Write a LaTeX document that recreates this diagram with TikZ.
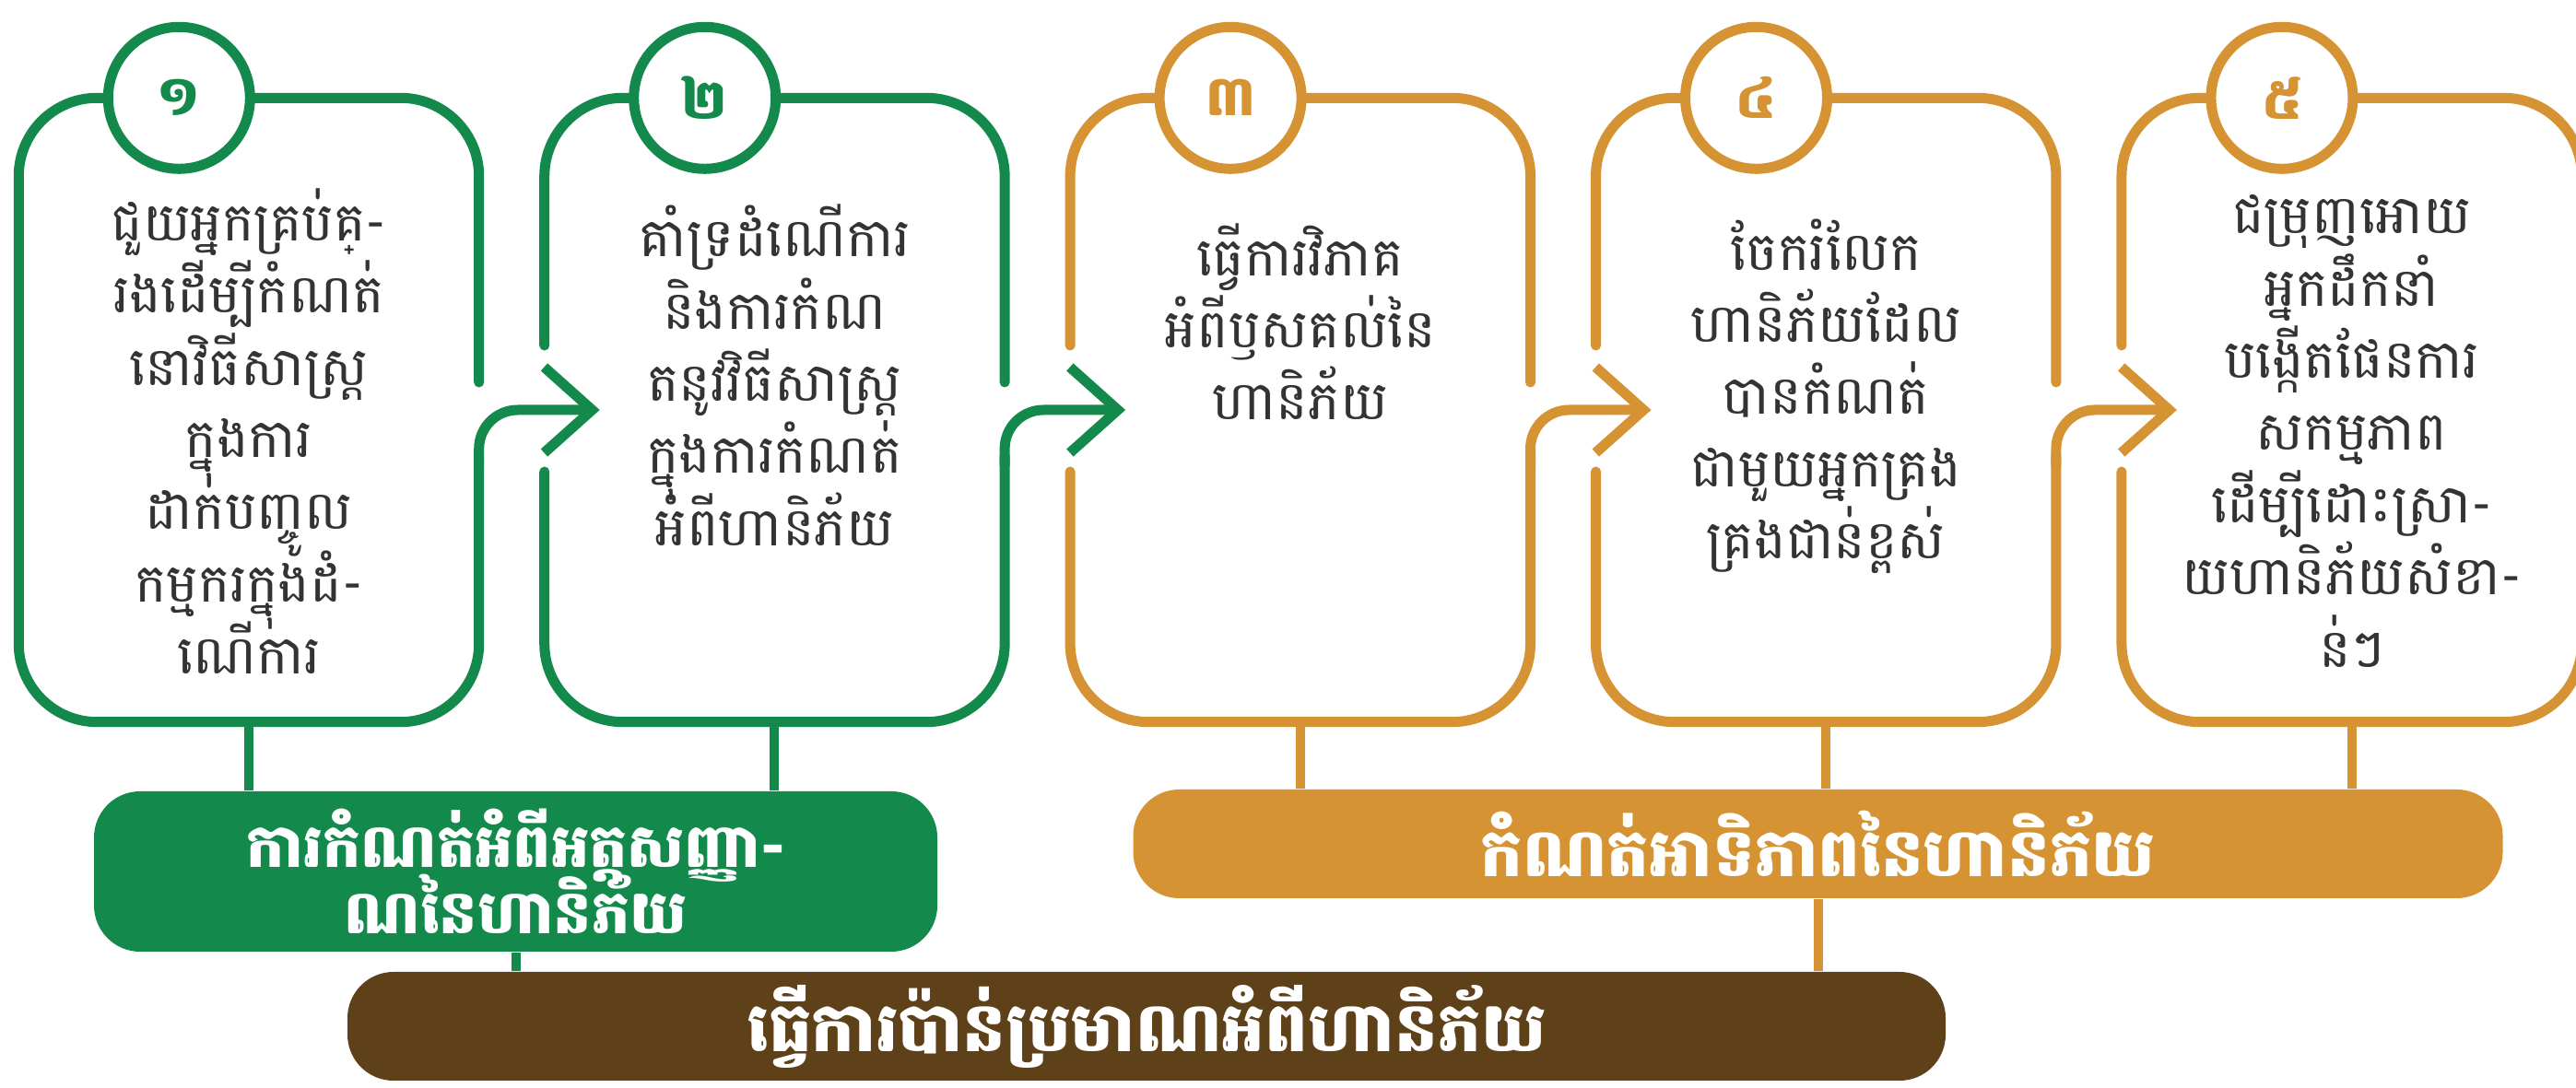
\documentclass[tikz,border=0pt]{standalone}
\usepackage{fontspec}
\setmainfont[Script=Khmer]{Battambang}
\usetikzlibrary{positioning,arrows.meta}
\definecolor{riskgreen}{HTML}{138A4C}
\definecolor{riskorange}{HTML}{D59333}
\definecolor{riskbrown}{HTML}{5E4019}
\definecolor{inktext}{HTML}{333333}
\setlength{\lineskiplimit}{-30pt}% Khmer stacks must not push the lines apart

\begin{document}
\begin{tikzpicture}[
    line cap=round,line join=round,
    stepbox/.style={rectangle,minimum width=49.8mm,minimum height=67.6mm,inner sep=0pt},
    frame/.style={draw=#1,line width=1.1mm,rounded corners=8.5mm},
    numcirc/.style={circle,draw=#1,fill=white,line width=1.1mm,minimum size=15.4mm,
        inner sep=0pt,text=#1,font=\fontsize{17}{17}\selectfont\bfseries},
    steptext/.style={align=center,text=inktext,inner sep=0pt,
        font=\fontsize{16.5}{22.3}\selectfont},
    flow/.style={draw=#1,line width=1.1mm,rounded corners=4.2mm,
        -{Straight Barb[length=5.2mm,width=9.3mm,sharp]}},
    link/.style={draw=#1,line width=1mm,line cap=butt},
    bar/.style={rectangle,fill=#1,rounded corners=5mm,text=white,align=center,inner sep=0pt},
    node distance=7.1mm
  ]
    \useasboundingbox (0,0) rectangle (27.95,11.81);

    % the five steps
    \node[stepbox] (b1) at (2.70,7.36) {};
    \node[stepbox,right=of b1] (b2) {};
    \node[stepbox,right=of b2] (b3) {};
    \node[stepbox,right=of b3] (b4) {};
    \node[stepbox,right=of b4] (b5) {};

    % outlines (gaps left for the arrows)
    \draw[frame=riskgreen] ([yshift=3mm]b1.east) -- (b1.north east) -- (b1.north west)
        -- (b1.south west) -- (b1.south east) -- ([yshift=-5mm]b1.east);
    \draw[frame=riskgreen] ([yshift=3mm]b2.east) -- (b2.north east) -- (b2.north west) -- ([yshift=7mm]b2.west);
    \draw[frame=riskgreen] ([yshift=-6.7mm]b2.west) -- (b2.south west) -- (b2.south east) -- ([yshift=-5mm]b2.east);
    \draw[frame=riskorange] ([yshift=3mm]b3.east) -- (b3.north east) -- (b3.north west) -- ([yshift=7mm]b3.west);
    \draw[frame=riskorange] ([yshift=-6.7mm]b3.west) -- (b3.south west) -- (b3.south east) -- ([yshift=-5mm]b3.east);
    \draw[frame=riskorange] ([yshift=3mm]b4.east) -- (b4.north east) -- (b4.north west) -- ([yshift=7mm]b4.west);
    \draw[frame=riskorange] ([yshift=-6.7mm]b4.west) -- (b4.south west) -- (b4.south east) -- ([yshift=-5mm]b4.east);
    \draw[frame=riskorange] ([yshift=-6.7mm]b5.west) -- (b5.south west) -- (b5.south east)
        -- (b5.north east) -- (b5.north west) -- ([yshift=7mm]b5.west);

    % arrows from step to step
    \draw[flow=riskgreen] ([yshift=-6mm]b1.east) -- (b1.east) -- ([xshift=6mm]b2.west);
    \draw[flow=riskgreen] ([yshift=-6mm]b2.east) -- (b2.east) -- ([xshift=6mm]b3.west);
    \draw[flow=riskorange] ([yshift=-6mm]b3.east) -- (b3.east) -- ([xshift=6mm]b4.west);
    \draw[flow=riskorange] ([yshift=-6mm]b4.east) -- (b4.east) -- ([xshift=6mm]b5.west);

    % numbers
    \node[numcirc=riskgreen] (n1) at ([xshift=17.4mm]b1.north west) {១};
    \node[numcirc=riskgreen] (n2) at ([xshift=17.4mm]b2.north west) {២};
    \node[numcirc=riskorange] (n3) at ([xshift=17.4mm]b3.north west) {៣};
    \node[numcirc=riskorange] (n4) at ([xshift=17.4mm]b4.north west) {៤};
    \node[numcirc=riskorange] (n5) at ([xshift=17.4mm]b5.north west) {៥};

    % step texts
    \node[steptext] (t1) at ([yshift=-2.3mm]b1.center)
        {ជួយអ្នកគ្រប់គ្-\\រងដើម្បីកំណត់\\នោវិធីសាស្ត្រ\\ក្នុងការ\\ដាក់បញ្ចូល\\កម្មករក្នុងដំ-\\ណើការ};
    \node[steptext] (t2) at ([yshift=3.8mm]b2.center)
        {គាំទ្រដំណើការ\\និងការកំណ\\តនូវវិធីសាស្ត្រ\\ក្នុងការកំណត់\\អំពីហានិភ័យ};
    \node[steptext] (t3) at ([yshift=9.6mm]b3.center)
        {ធ្វើការវិភាគ\\អំពីឫសគល់នៃ\\ហានិភ័យ};
    \node[steptext] (t4) at ([yshift=1.5mm]b4.center)
        {ចែករំលែក\\ហានិភ័យដែល\\បានកំណត់\\ជាមួយអ្នកគ្រង\\គ្រងជាន់ខ្ពស់};
    \node[steptext] (t5) at ([yshift=-2.3mm]b5.center)
        {ជម្រុញអោយ\\អ្នកដឹកនាំ\\បង្កើតផែនការ\\សកម្មភាព\\ដើម្បីដោះស្រា-\\យហានិភ័យសំខា-\\ន់ៗ};

    % groups
    \node[bar=riskgreen,minimum width=91.5mm,minimum height=17.4mm,
        font=\fontsize{18.5}{20.5}\selectfont\bfseries] (gbar) at (5.595,2.35)
        {ការកំណត់អំពីអត្តសញ្ញា-\\ណនៃហានិភ័យ};
    \node[bar=riskorange,minimum width=148.6mm,minimum height=11.8mm,
        font=\fontsize{20.5}{20.5}\selectfont\bfseries] (obar) at (19.725,2.65)
        {កំណត់អាទិភាពនៃហានិភ័យ};
    \node[bar=riskbrown,minimum width=173.4mm,minimum height=11.8mm,
        font=\fontsize{21}{21}\selectfont\bfseries] (rbar) at (12.44,0.67)
        {ធ្វើការប៉ាន់ប្រមាណអំពីហានិភ័យ};

    % links to the groups
    \draw[link=riskgreen] (b1.south) -- (b1.south |- gbar.north);
    \draw[link=riskgreen] (b2.south) -- (b2.south |- gbar.north);
    \draw[link=riskorange] (b3.south) -- (b3.south |- obar.north);
    \draw[link=riskorange] (b4.south) -- (b4.south |- obar.north);
    \draw[link=riskorange] (b5.south) -- (b5.south |- obar.north);
    \draw[link=riskgreen] (gbar.south) -- (gbar.south |- rbar.north);
    \draw[link=riskorange] (obar.south) -- (obar.south |- rbar.north);
\end{tikzpicture}
\end{document}
